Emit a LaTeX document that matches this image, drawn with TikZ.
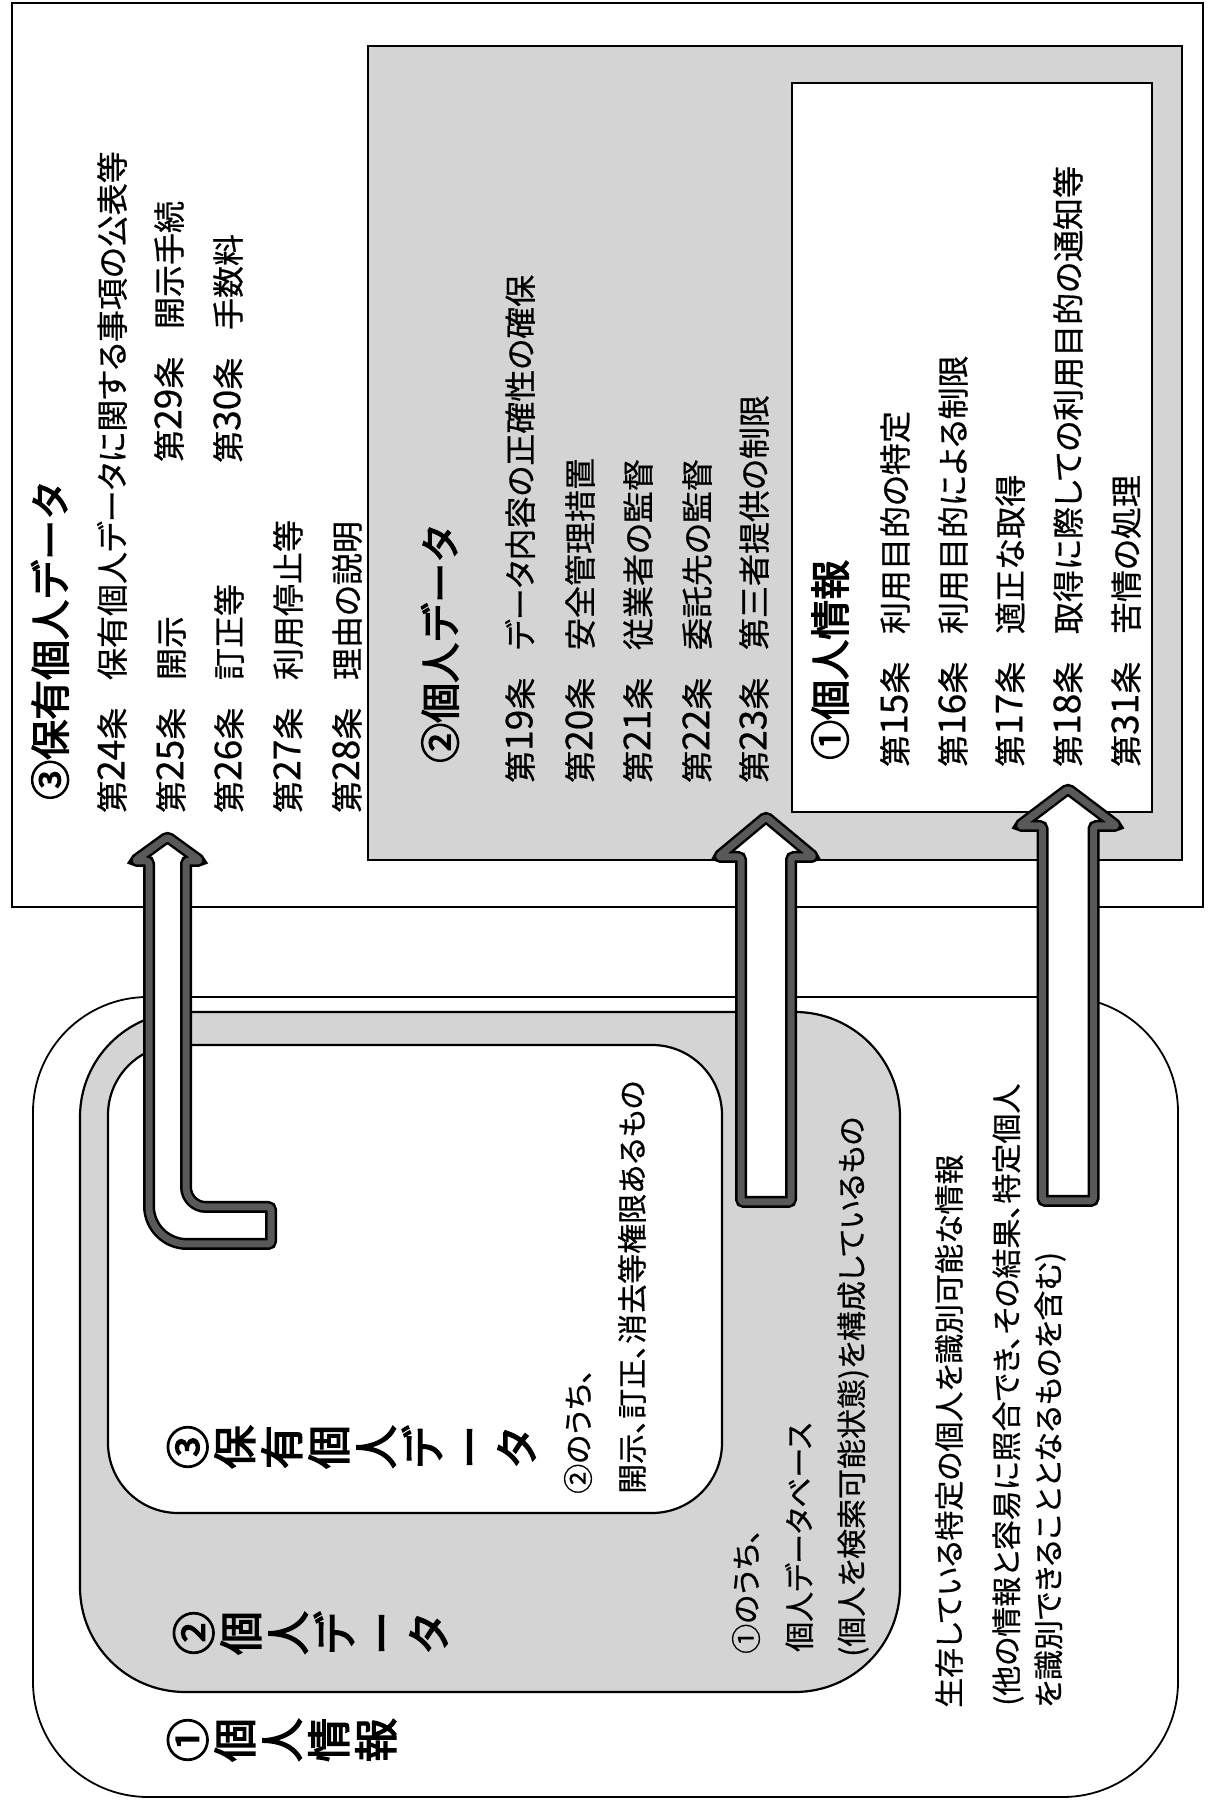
\documentclass[tikz,border=0pt]{standalone}
\usepackage{fontspec}
\setmainfont{Noto Sans CJK JP}[RawFeature=+palt,FakeBold=0.6]
\newfontfamily\hfont{Noto Sans CJK JP}[FakeBold=3]
\newcommand\artl[2]{\makebox[4.15em][l]{第{\fontsize{37}{37}\selectfont #1}条}#2}
\begin{document}
\begin{tikzpicture}[x=1pt,y=1pt,rotate=90,transform shape,
  bt/.style={anchor=west,inner sep=0pt,font=\fontsize{30}{36}\selectfont},
  rt/.style={anchor=west,inner sep=0pt,font=\fontsize{32}{38}\selectfont},
  hd/.style={anchor=west,inner sep=0pt,font=\hfont\fontsize{40}{40}\selectfont},
  vh/.style={anchor=north,inner sep=0pt,align=center,font=\hfont\fontsize{44}{47}\selectfont},
  boxline/.style={draw=black,line width=2.2pt},
  grayfill/.style={fill=black!17},
  barrow/.style={preaction={fill=white},preaction={draw=black,line width=12pt},
                 draw=black!65,line width=7pt,line join=round}]
% landscape coordinates: (Lx,-Ly); picture is rotated 90 degrees
\useasboundingbox (0,0) rectangle (1809,-1216);
\fill[white] (0,0) rectangle (1809,-1216);

% ---------- right group ----------
\draw[boxline,line width=1.8pt] (902,-12) rectangle (1806,-1203);
\draw[boxline,grayfill] (949,-368) rectangle (1763,-1182);
\draw[boxline,fill=white] (997,-792) rectangle (1726,-1152);

% ---------- left group ----------
\draw[boxline,line width=1.8pt,rounded corners=115] (12,-33) rectangle (812,-1178);
\draw[boxline,grayfill,rounded corners=105] (117,-80) rectangle (797,-900);
\draw[boxline,fill=white,rounded corners=70] (296,-108) rectangle (764,-722);

% ---------- block arrows ----------
\coordinate (tailA) at (583,-271);
\coordinate (tipA) at (972,-167.5);
\draw[barrow,rounded corners=3] (tipA) -- (948,-200.5) -- (948,-186)
  [rounded corners=20] -- (602,-186) [rounded corners=3] -- (602,-271) -- (565,-271)
  [rounded corners=38] -- (565,-149) [rounded corners=3] -- (948,-149) -- (948,-134.5) -- cycle;

\coordinate (tailB) at (607,-766);
\coordinate (tipB) at (992,-766);
\draw[barrow,rounded corners=3] (tipB) -- (952,-814) -- (952,-791) -- (607,-791)
  -- (607,-741) -- (952,-741) -- (952,-718) -- cycle;

\coordinate (tailC) at (608,-1068);
\coordinate (tipC) at (1020,-1068);
\draw[barrow,rounded corners=3] (tipC) -- (983,-1117) -- (983,-1093.5) -- (608,-1093.5)
  -- (608,-1042.5) -- (983,-1042.5) -- (983,-1019) -- cycle;

% ---------- texts: right group ----------
\node[hd] (h3r) at (1009,-50) {③保有個人データ};
\node[rt] (r24) at (996,-112) {\artl{24}{保有個人データに関する事項の公表等}};
\node[rt] (r25) at (996,-171) {\artl{25}{開示}};
\node[rt] (r29) at (1347,-169) {\artl{29}{開示手続}};
\node[rt] (r26) at (996,-229) {\artl{26}{訂正等}};
\node[rt] (r30) at (1346,-228) {\artl{30}{手数料}};
\node[rt] (r27) at (996,-288) {\artl{27}{利用停止等}};
\node[rt] (r28) at (996,-347) {\artl{28}{理由の説明}};

\node[hd] (h2r) at (1046,-440) {②個人データ};
\node[rt] (r19) at (1026,-520) {\artl{19}{データ内容の正確性の確保}};
\node[rt] (r20) at (1026,-580) {\artl{20}{安全管理措置}};
\node[rt] (r21) at (1026,-638) {\artl{21}{従業者の監督}};
\node[rt] (r22) at (1026,-697) {\artl{22}{委託先の監督}};
\node[rt] (r23) at (1026,-754) {\artl{23}{第三者提供の制限}};

\node[hd] (h1r) at (1049,-830) {①個人情報};
\node[rt] (r15) at (1042,-895) {\artl{15}{利用目的の特定}};
\node[rt] (r16) at (1042,-953) {\artl{16}{利用目的による制限}};
\node[rt] (r17) at (1042,-1010) {\artl{17}{適正な取得}};
\node[rt] (r18) at (1042,-1068) {\artl{18}{取得に際しての利用目的の通知等}};
\node[rt] (r31) at (1042,-1126) {\artl{31}{苦情の処理}};

% ---------- texts: left group ----------
\node[vh] (h1l) at (69,-167) {①\\個\\人\\情\\報};
\node[vh] (h2l) at (176,-173) {②\\個\\人\\デ\\ー\\タ};
\node[vh] (h3l) at (362,-167) {③\\保\\有\\個\\人\\デ\\ー\\タ};

\node[bt] (t3a) at (315,-578) {②のうち、};
\node[bt] (t3b) at (315,-632) {開示、訂正、消去等権限あるもの};
\node[bt] (t2a) at (155,-746) {①のうち、};
\node[bt] (t2b) at (157,-799) {個人データベース};
\node[bt] (t2c) at (152,-853) {(個人を検索可能状態)を構成しているもの};
\node[bt] (t1a) at (101,-949) {生存している特定の個人を識別可能な情報};
\node[bt] (t1b) at (103,-1008) {(他の情報と容易に照合でき、その結果、特定個人};
\node[bt] (t1c) at (101,-1050) {を識別できることとなるものを含む)};
\end{tikzpicture}
\end{document}
